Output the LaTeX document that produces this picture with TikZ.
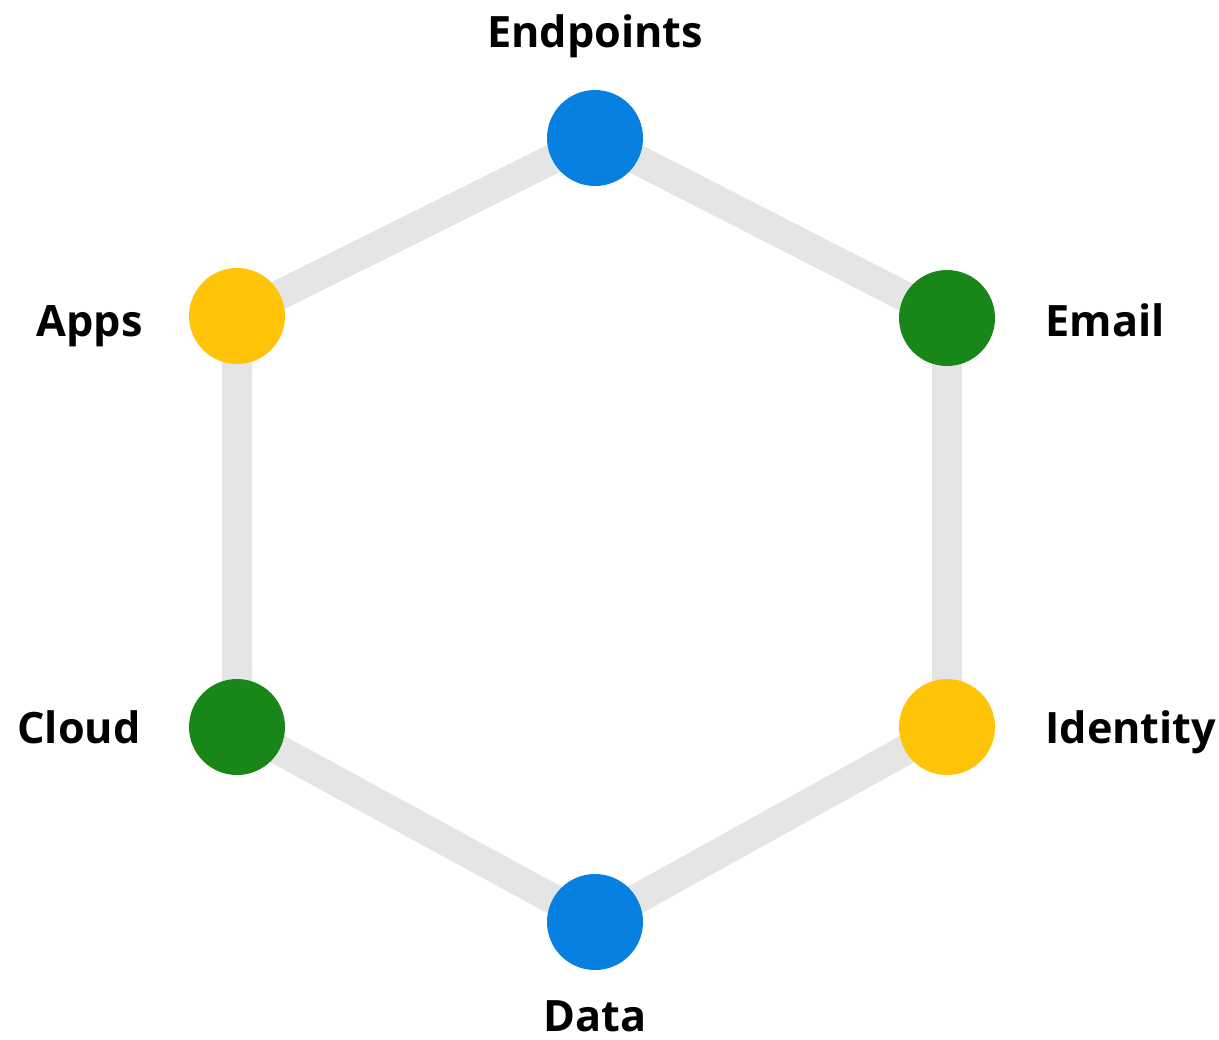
\documentclass[tikz,border=0pt]{standalone}
\usepackage{fontspec}
\setmainfont{Open Sans}
\usepackage{tikz}
\usetikzlibrary{backgrounds}
\usetikzlibrary{positioning}
\definecolor{ptblue}{HTML}{0780E2}
\definecolor{ptgreen}{HTML}{188618}
\definecolor{ptyellow}{HTML}{FFC408}
\definecolor{ptgray}{HTML}{E5E5E5}
\tikzset{
  dot/.style={circle,inner sep=0pt,minimum size=1.92cm},
  ring/.style={ptgray,line width=0.6cm,line join=round},
  tag/.style={inner sep=0pt,font=\fontsize{24.6}{28}\selectfont\bfseries}
}

\begin{document}
\begin{tikzpicture}[x=0.02cm,y=-0.02cm]
			\useasboundingbox (0,0) rectangle (1219,1039);
			%hexagon points
			\node[dot,fill=ptblue] (endpoints) at (595,138) {};
			\node[dot,fill=ptgreen] (email) at (947,318) {};
			\node[dot,fill=ptyellow] (identity) at (947,727) {};
			\node[dot,fill=ptblue] (data) at (595,922) {};
			\node[dot,fill=ptgreen] (cloud) at (237,727) {};
			\node[dot,fill=ptyellow] (apps) at (237,316) {};
			%grey ring behind the points
			\begin{pgfonlayer}{background}
			\draw[ring] (endpoints.center)--(email.center)--(identity.center)--(data.center)--(cloud.center)--(apps.center)--cycle;
			\end{pgfonlayer}
			%names
			\node[tag,anchor=base] (endpoints_t) at (595,47) {Endpoints};
			\node[tag,anchor=base west] (email_t) at (1045,336) {Email};
			\node[tag,anchor=base west] (identity_t) at (1045,743) {Identity};
			\node[tag,anchor=base] (data_t) at (595,1031) {Data};
			\node[tag,anchor=base east] (cloud_t) at (141,743) {Cloud};
			\node[tag,anchor=base east] (apps_t) at (143,336) {Apps};
		\end{tikzpicture}
\end{document}
